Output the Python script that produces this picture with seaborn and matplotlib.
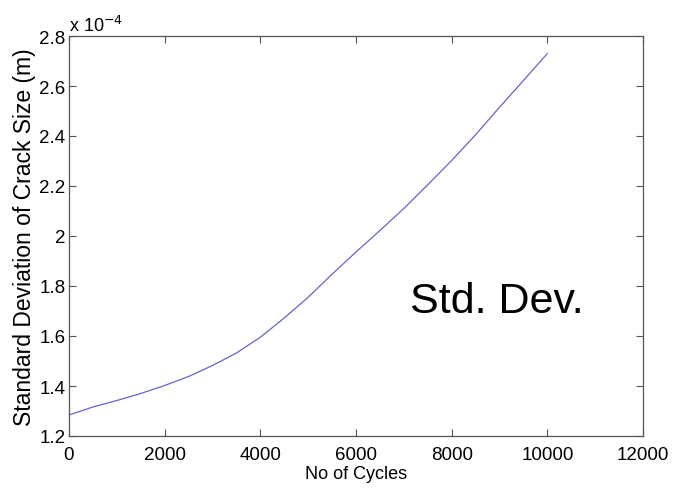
import matplotlib
matplotlib.use("Agg")
import matplotlib.pyplot as plt
import matplotlib.ticker as mticker
import matplotlib.transforms as mtransforms
import seaborn as sns
import pandas as pd

cycles = [0, 500, 1000, 1500, 2000, 2500, 3000, 3500, 4000, 4500, 5000,
          5500, 6000, 6500, 7000, 7500, 8000, 8500, 9000, 9500, 10000]
std_dev = [1.284e-4, 1.316e-4, 1.342e-4, 1.370e-4, 1.402e-4, 1.438e-4, 1.482e-4,
           1.532e-4, 1.595e-4, 1.672e-4, 1.755e-4, 1.847e-4, 1.936e-4, 2.022e-4,
           2.110e-4, 2.205e-4, 2.302e-4, 2.405e-4, 2.515e-4, 2.622e-4, 2.730e-4]
x_ticks = [0, 2000, 4000, 6000, 8000, 10000, 12000]
y_ticks = [1.2e-4, 1.4e-4, 1.6e-4, 1.8e-4, 2.0e-4, 2.2e-4, 2.4e-4, 2.6e-4, 2.8e-4]

sns.set_style("ticks")
plt.rcParams['font.family'] = ['Liberation Sans', 'DejaVu Sans']
plt.rcParams['text.color'] = 'black'
plt.rcParams['axes.labelcolor'] = 'black'

df = pd.DataFrame({"cycles": cycles, "std": std_dev})

fig = plt.figure(figsize=(6.75, 4.89), dpi=100)
ax = fig.add_axes([69/675, 52/489, (643-69)/675, (437-37)/489])
sns.lineplot(data=df, x="cycles", y="std", ax=ax, color="#6464cc", linewidth=0.9)

ax.set_xlim(0, 12000)
ax.set_ylim(1.2e-4, 2.8e-4)
ax.set_xticks(x_ticks)
ax.set_yticks(y_ticks)
ax.xaxis.set_major_formatter(mticker.FuncFormatter(lambda v, p: f"{v:g}"))
ax.yaxis.set_major_formatter(mticker.FuncFormatter(lambda v, p: f"{round(v*1e4, 4):g}"))
ax.tick_params(direction="in", length=5, width=0.8, top=True, right=True,
               labelsize=13.5, colors="#555555", labelcolor="black")
ax.tick_params(axis="x", pad=7.5)
ax.tick_params(axis="y", pad=2.5)
for s in ax.spines.values():
    s.set_visible(True)
    s.set_color("#555555")
    s.set_linewidth(0.9)

ax.set_xlabel("No of Cycles", fontsize=13, labelpad=1.5)
ax.set_ylabel("Standard Deviation of Crack Size (m)", fontsize=16.5, labelpad=2)
ax.text(0.0, 1.012, r"x 10$^{-4}$", transform=ax.transAxes, fontsize=13,
        ha="left", va="baseline")
ax.text(410, 489 - 313, "Std. Dev.", transform=mtransforms.IdentityTransform(),
        fontsize=31, ha="left", va="baseline", color="black")

fig.savefig("out.png", dpi=100, facecolor="white")
